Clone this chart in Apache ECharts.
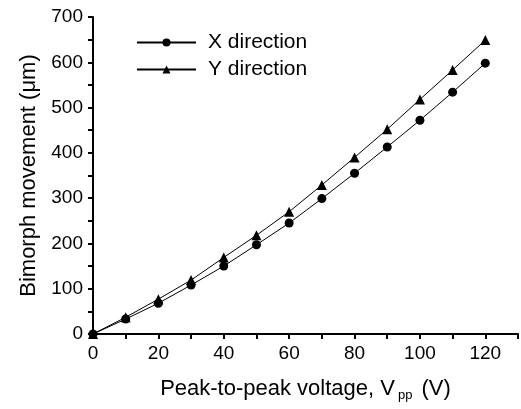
<!DOCTYPE html>
<html>
<head>
<meta charset="utf-8">
<script src="https://cdn.jsdelivr.net/npm/echarts@6/dist/echarts.min.js"></script>
<style>
  html, body { margin: 0; padding: 0; background: #fff; }
  #chart { width: 521px; height: 409px; }
</style>
</head>
<body>
<div id="chart"></div>
<script>
    // voltage (V) and measured movement (um)
    var voltages = [0, 10, 20, 30, 40, 50, 60, 70, 80, 90, 100, 110, 120];
    var xDirection = [0, 33, 68, 108, 150, 197, 245, 299, 355, 413, 472, 534, 598];
    var yDirection = [0, 37, 77, 119, 169, 218, 270, 329, 390, 452, 518, 583, 649];

    function pairs(xs, ys) {
        var out = [];
        for (var i = 0; i < xs.length; i++) {
            out.push([xs[i], ys[i]]);
        }
        return out;
    }

    var font = '"Liberation Sans", Arial, Helvetica, sans-serif';

    var option = {
        animation: false,
        backgroundColor: '#fff',
        textStyle: { fontFamily: font, color: '#000' },
        grid: { left: 93, top: 17, right: 0, bottom: 75 },
        legend: {
            orient: 'vertical',
            left: 136,
            top: 32,
            padding: 0,
            itemWidth: 59,
            itemHeight: 10,
            itemGap: 6,
            textStyle: { fontSize: 21, color: '#000', fontFamily: font, padding: [0, 0, 0, 7] },
            data: ['X direction', 'Y direction']
        },
        xAxis: {
            type: 'value',
            min: 0,
            max: 130,
            interval: 20,
            name: '{a|Peak-to-peak voltage, V}{s|pp}{a| (V)}',
            nameLocation: 'middle',
            nameGap: 41,
            nameTextStyle: {
                rich: {
                    a: { fontSize: 22, color: '#000', fontFamily: font },
                    s: { fontSize: 13, color: '#000', fontFamily: font, padding: [14, 3, 0, 3] }
                }
            },
            axisLine: { lineStyle: { color: '#000', width: 2 } },
            axisTick: { length: 5, lineStyle: { color: '#000', width: 2 } },
            minorTick: { show: true, splitNumber: 2, length: 5, lineStyle: { color: '#000', width: 2 } },
            axisLabel: {
                fontSize: 19, color: '#000', margin: 10, fontFamily: font,
                formatter: function (v) { return v > 120 ? '' : v; }
            },
            splitLine: { show: false }
        },
        yAxis: {
            type: 'value',
            min: 0,
            max: 700,
            interval: 100,
            name: 'Bimorph movement (\u03bcm)',
            nameLocation: 'middle',
            nameGap: 52,
            nameTextStyle: { fontSize: 22, color: '#000', fontFamily: font },
            axisLine: { lineStyle: { color: '#000', width: 2 } },
            axisTick: { length: 5, lineStyle: { color: '#000', width: 2 } },
            minorTick: { show: true, splitNumber: 2, length: 5, lineStyle: { color: '#000', width: 2 } },
            axisLabel: { fontSize: 19, color: '#000', margin: 10, fontFamily: font },
            splitLine: { show: false }
        },
        series: [
            {
                name: 'X direction',
                type: 'line',
                data: pairs(voltages, xDirection),
                symbol: 'circle',
                symbolSize: 9,
                itemStyle: { color: '#000' },
                lineStyle: { color: '#000', width: 1 }
            },
            {
                name: 'Y direction',
                type: 'line',
                data: pairs(voltages, yDirection),
                symbol: 'triangle',
                symbolSize: 10,
                itemStyle: { color: '#000' },
                lineStyle: { color: '#000', width: 1 }
            }
        ]
    };

    var chart = echarts.init(document.getElementById('chart'), null, { renderer: 'canvas' });
    chart.setOption(option);
</script>
</body>
</html>
